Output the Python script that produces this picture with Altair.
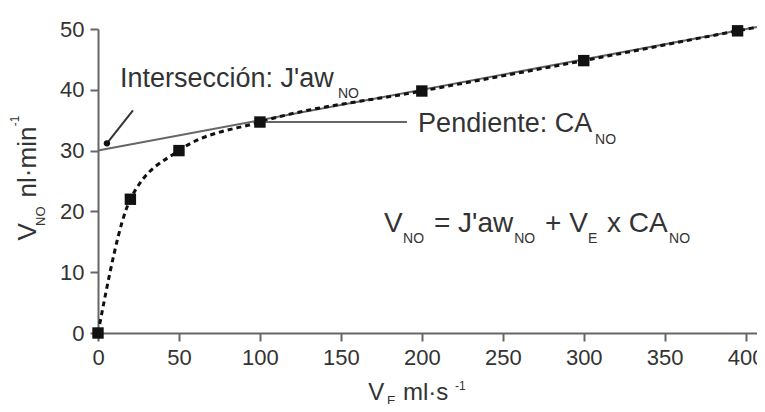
import altair as alt
import pandas as pd

# ---- data ----
ve = [0, 20, 50, 100, 200, 300, 395]          # V_E ml/s
vno = [0, 22, 30, 34.7, 39.8, 44.8, 49.7]      # V_NO nl/min
curve_end_x = [407]
curve_end_y = [50.3]
fit_x = [0, 407]                               # linear fit: intercept 30, slope 0.05
fit_y = [30, 50.35]
x_ticks = [0, 50, 100, 150, 200, 250, 300, 350, 400]
y_ticks = [0, 10, 20, 30, 40, 50]

# annotation pointers
ptr_x = [21.6, 5.5]
ptr_y = [36.6, 31.2]
lead_x = [100, 190.8]
lead_y = [34.7, 34.7]

# annotation texts
ann_text = ["Intersección: J'aw", "Pendiente: CA"]
ann_x = [13.6, 197.7]
ann_y = [40.5, 33.0]
eq_text = ["V", "= J'aw", "+ V", "x CA"]
eq_x = [176.6, 207.5, 276.1, 314.4]
eq_y = [16.6, 16.6, 16.6, 16.6]
sub_text = ["NO", "NO", "NO", "NO", "E", "NO"]
sub_x = [148.2, 307.0, 188.4, 257.0, 302.7, 352.7]
sub_y = [38.6, 31.1, 14.75, 14.75, 14.75, 14.75]
# x axis title pieces
xt_text = ["V", "ml·s"]
xt_x = [166.9, 188.4]
xt_y = [-11.0, -11.0]
xt_sub_text = ["E"]
xt_sub_x = [178.5]
xt_sub_y = [-11.9]
xt_sup_text = ["-1"]
xt_sup_x = [220.5]
xt_sup_y = [-9.4]
# y axis title pieces (rotated)
yt_text = ["V", "nl·min"]
yt_x = [-38.0, -38.0]
yt_y = [15.2, 22.3]
yt_sub_text = ["NO"]
yt_sub_x = [-32.7]
yt_sub_y = [17.6]
yt_sup_text = ["-1"]
yt_sup_x = [-48.8]
yt_sup_y = [34.0]

FONT = "Liberation Sans"
TXT = "#333333"
AX = "#666666"
xs = alt.Scale(domain=[0, 407], nice=False, zero=False)
ys = alt.Scale(domain=[0, 50], nice=False, zero=False)
xa = alt.Axis(values=x_ticks, title=None, labelFontSize=22, labelFont=FONT, labelColor=TXT,
              domainColor=AX, domainWidth=2, tickColor=AX, tickWidth=2, tickSize=8,
              labelPadding=6, grid=False, labelFlush=False)
ya = alt.Axis(values=y_ticks, title=None, labelFontSize=22, labelFont=FONT, labelColor=TXT,
              domainColor=AX, domainWidth=2, tickColor=AX, tickWidth=2, tickSize=8,
              labelPadding=6, grid=False, labelFlush=False)

pts = pd.DataFrame({"x": ve, "y": vno})
curve = pd.DataFrame({"x": ve + curve_end_x, "y": vno + curve_end_y})
fit = pd.DataFrame({"x": fit_x, "y": fit_y})
ptr = pd.DataFrame({"x": ptr_x, "y": ptr_y})
lead = pd.DataFrame({"x": lead_x, "y": lead_y})


def tdf(t, x, y):
    return pd.DataFrame({"t": t, "x": x, "y": y})


def enc(ch):
    return ch.encode(x=alt.X("x:Q", scale=xs, axis=xa), y=alt.Y("y:Q", scale=ys, axis=ya))


fit_l = enc(alt.Chart(fit).mark_line(color=AX, strokeWidth=2))
curve_l = enc(alt.Chart(curve).mark_line(color="#111111", strokeWidth=3,
                                          strokeDash=[5, 4], interpolate="monotone"))
lead_l = enc(alt.Chart(lead).mark_line(color=AX, strokeWidth=2))
ptr_l = enc(alt.Chart(ptr).mark_line(color="#333333", strokeWidth=2))
ptr_dot = enc(alt.Chart(ptr.iloc[[1]]).mark_circle(color="#111111", size=40, opacity=1))
pts_l = enc(alt.Chart(pts).mark_square(color="#111111", size=130, opacity=1))


def texts(df, size, **kw):
    return enc(alt.Chart(df).mark_text(font=FONT, fontSize=size, color=TXT, align="left",
                                       baseline="alphabetic", **kw)).encode(text="t:N")


layers = [
    fit_l, curve_l, lead_l, ptr_l, ptr_dot, pts_l,
    texts(tdf(ann_text, ann_x, ann_y), 27),
    texts(tdf(eq_text, eq_x, eq_y), 28),
    texts(tdf(sub_text, sub_x, sub_y), 14),
    texts(tdf(xt_text, xt_x, xt_y), 24),
    texts(tdf(xt_sub_text, xt_sub_x, xt_sub_y), 13),
    texts(tdf(xt_sup_text, xt_sup_x, xt_sup_y), 12),
    texts(tdf(yt_text, yt_x, yt_y), 26, angle=270),
    texts(tdf(yt_sub_text, yt_sub_x, yt_sub_y), 13, angle=270),
    texts(tdf(yt_sup_text, yt_sup_x, yt_sup_y), 12, angle=270),
]

chart = alt.layer(*layers).properties(
    width=659, height=304,
    background="white",
    autosize=alt.AutoSizeParams(type="none"),
    padding={"left": 90, "top": 21, "right": 0, "bottom": 71},
).configure_view(stroke=None)

chart.save("out.html", embed_options={"renderer": "svg", "actions": False})
